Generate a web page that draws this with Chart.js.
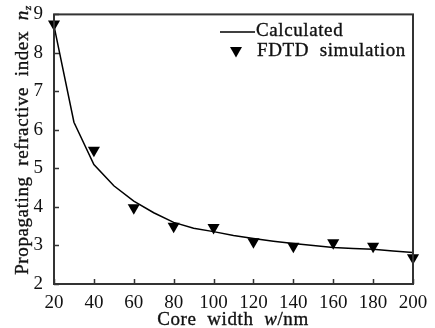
<!DOCTYPE html>
<html>
<head>
<meta charset="utf-8">
<script src="https://cdn.jsdelivr.net/npm/chart.js@4.4.1/dist/chart.umd.min.js"></script>
<style>
  html, body { margin: 0; padding: 0; background: #fff; }
  #wrap { width: 435px; height: 328px; }
</style>
</head>
<body>
<div id="wrap"><canvas id="nz-chart" width="435" height="328"></canvas></div>
<script>
// core width (nm) vs propagating refractive index
var calcWidth = [20, 30, 40, 50, 60, 70, 80, 90, 100, 110, 120, 130, 140, 150, 160, 170, 180, 190, 200];
var calcIndex = [8.7, 6.2, 5.1, 4.55, 4.15, 3.85, 3.6, 3.45, 3.36, 3.26, 3.18, 3.11, 3.05, 3.0, 2.95, 2.92, 2.9, 2.86, 2.82];
var fdtdWidth = [20, 40, 60, 80, 100, 120, 140, 160, 180, 200];
var fdtdIndex = [8.75, 5.47, 3.98, 3.5, 3.47, 3.1, 2.98, 3.07, 2.98, 2.68];
var xTicks = [20, 40, 60, 80, 100, 120, 140, 160, 180, 200];
var yTicks = [2, 3, 4, 5, 6, 7, 8, 9];

var FONT = '"Liberation Serif", "Times New Roman", serif';
var INK = '#111';
var SIZE = 19;

function pairs(xs, ys) {
    return xs.map(function(x, i) { return { x: x, y: ys[i] }; });
}

// draw a run of text pieces, some italic, with a little letter spacing
function drawRich(ctx, parts, x, y, size) {
    ctx.letterSpacing = '0.6px';
    ctx.lineWidth = 0.35;
    ctx.strokeStyle = INK;
    parts.forEach(function(p) {
        var s = p.sub ? size * 0.6 : size;
        var dy = p.sub ? size * 0.18 : 0;
        ctx.font = (p.it ? 'italic ' : '') + s + 'px ' + FONT;
        ctx.fillText(p.t, x, y + dy);
        ctx.strokeText(p.t, x, y + dy);
        x += ctx.measureText(p.t).width;
    });
    ctx.letterSpacing = '0px';
}
function richWidth(ctx, parts, size) {
    ctx.letterSpacing = '0.6px';
    var w = 0;
    parts.forEach(function(p) {
        var s = p.sub ? size * 0.6 : size;
        ctx.font = (p.it ? 'italic ' : '') + s + 'px ' + FONT;
        w += ctx.measureText(p.t).width;
    });
    ctx.letterSpacing = '0px';
    return w;
}

var framePlugin = {
    id: 'frame',
    afterDraw: function(chart) {
        var ctx = chart.ctx, a = chart.chartArea;
        var xs = chart.scales.x, ys = chart.scales.y;
        ctx.save();
        ctx.strokeStyle = '#333';
        ctx.lineWidth = 2;
        ctx.strokeRect(a.left, a.top, a.right - a.left, a.bottom - a.top);
        // inward tick marks
        ctx.lineWidth = 1.5;
        ctx.beginPath();
        xTicks.forEach(function(v) {
            var px = Math.round(xs.getPixelForValue(v)) + 0.5;
            ctx.moveTo(px, a.bottom);
            ctx.lineTo(px, a.bottom - 5);
        });
        yTicks.forEach(function(v) {
            var py = Math.round(ys.getPixelForValue(v)) + 0.5;
            ctx.moveTo(a.left, py);
            ctx.lineTo(a.left + 5, py);
        });
        ctx.stroke();

        // legend
        ctx.strokeStyle = '#000';
        ctx.lineWidth = 1.5;
        ctx.beginPath();
        ctx.moveTo(220, 32);
        ctx.lineTo(255, 32);
        ctx.stroke();
        ctx.fillStyle = INK;
        ctx.textBaseline = 'middle';
        ctx.textAlign = 'left';
        drawRich(ctx, [{ t: 'Calculated' }], 256, 31, SIZE);
        drawRich(ctx, [{ t: 'FDTD  simulation' }], 257, 51, SIZE);
        ctx.fillStyle = '#000';
        ctx.beginPath();
        ctx.moveTo(230, 47);
        ctx.lineTo(242, 47);
        ctx.lineTo(236, 57.5);
        ctx.closePath();
        ctx.fill();

        // axis titles
        ctx.fillStyle = INK;
        ctx.textBaseline = 'alphabetic';
        var xt = [{ t: 'Core  width  ' }, { t: 'w', it: true }, { t: '/nm' }];
        var w = richWidth(ctx, xt, SIZE);
        drawRich(ctx, xt, 233 - w / 2, 325, SIZE);

        var yt = [{ t: 'Propagating  refractive  index  ' }, { t: 'n', it: true }, { t: 'z', it: true, sub: true }];
        var h = richWidth(ctx, yt, SIZE);
        ctx.translate(28, 140);
        ctx.rotate(-Math.PI / 2);
        drawRich(ctx, yt, -h / 2, 0, SIZE);
        ctx.restore();
    }
};

var nzChart = new Chart(document.getElementById('nz-chart').getContext('2d'), {
    type: 'line',
    data: {
        datasets: [{
            label: 'Calculated',
            data: pairs(calcWidth, calcIndex),
            borderColor: '#000',
            borderWidth: 1.5,
            pointRadius: 0,
            tension: 0,
            fill: false
        }, {
            label: 'FDTD simulation',
            data: pairs(fdtdWidth, fdtdIndex),
            showLine: false,
            pointStyle: 'triangle',
            rotation: 180,
            pointRadius: 7,
            pointBackgroundColor: '#000',
            pointBorderColor: '#000',
            pointBorderWidth: 0
        }]
    },
    options: {
        responsive: false,
        animation: false,
        clip: false,
        layout: { padding: { top: 14, right: 22, left: 0, bottom: 0 } },
        plugins: { legend: { display: false }, tooltip: { enabled: false } },
        scales: {
            x: {
                type: 'linear',
                min: 20,
                max: 200,
                grid: { display: false },
                border: { display: false },
                ticks: {
                    stepSize: 20,
                    padding: 0,
                    color: INK,
                    maxRotation: 0,
                    font: { family: FONT, size: SIZE }
                },
                afterFit: function(scale) { scale.height = 44; }
            },
            y: {
                min: 2,
                max: 9,
                grid: { display: false },
                border: { display: false },
                ticks: {
                    stepSize: 1,
                    padding: 3,
                    color: INK,
                    font: { family: FONT, size: SIZE }
                },
                afterFit: function(scale) { scale.width = 54; }
            }
        }
    },
    plugins: [framePlugin]
});
</script>
</body>
</html>
